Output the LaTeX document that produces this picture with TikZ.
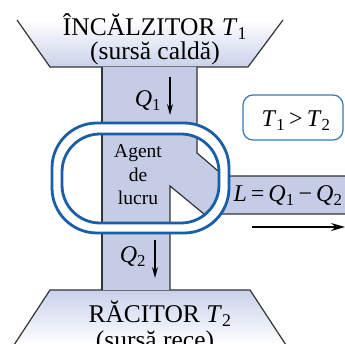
\documentclass[tikz,border=0pt]{standalone}
\usepackage{fontspec}
\setmainfont{Liberation Serif}
\usetikzlibrary{arrows.meta}
\definecolor{colfill}{HTML}{C5CCE6}
\definecolor{shadeblue}{HTML}{C9D1EB}
\definecolor{ringblue}{HTML}{1A5EA8}
\definecolor{boxblue}{HTML}{3A75BB}
\definecolor{edgegray}{HTML}{333333}
\newcommand\vT[1]{\textit{T}\textsubscript{#1}}
\newcommand\vQ[1]{\textit{Q}\textsubscript{#1}}
\begin{document}
\begin{tikzpicture}[x=1pt,y=-1pt,
  edge/.style={draw=edgegray,line width=1.2pt},
  ring/.style={draw=ringblue,line width=2.8pt},
  big/.style={font=\fontsize{24}{25}\selectfont,inner sep=0pt,anchor=base},
  title/.style={font=\fontsize{25.5}{26}\selectfont,inner sep=0pt,anchor=base},
  small/.style={font=\fontsize{19.5}{22}\selectfont,inner sep=0pt,anchor=base},
  flow/.style={draw=black,line width=1.3pt,-{Stealth[length=11pt,width=6pt]}}]
\useasboundingbox (0,0) rectangle (345,344);
% top reservoir
\shade[top color=white,bottom color=shadeblue] (17,20) -- (283,20) -- (248,67) -- (50,67) -- cycle;
\draw[edge] (17,20) -- (50,67) -- (248,67) -- (283,20);
% bottom reservoir
\shade[top color=shadeblue,bottom color=white] (50,290) -- (250,290) -- (286,345) -- (14,345) -- cycle;
\draw[edge] (14,345) -- (50,290) -- (250,290) -- (286,345);
% column and arm
\fill[colfill] (102,67) -- (197,67) -- (197,153) -- (224,176) -- (345,176) -- (345,214) -- (204,214) -- (170,186) -- (170,290) -- (102,290) -- cycle;
\draw[edge] (102,67) -- (102,290);
\draw[edge] (197,67) -- (197,153) -- (224,176) -- (345,176);
\draw[edge] (345,214) -- (204,214) -- (170,186) -- (170,290);
% ring
\fill[white,even odd rule] [rounded corners=45pt] (52,123) rectangle (229,233) [rounded corners=38pt] (62,134) rectangle (219,223);
\draw[ring,rounded corners=45pt] (52,123) rectangle (229,233);
\draw[ring,rounded corners=38pt] (62,134) rectangle (219,223);
% temperature box
\draw[boxblue,line width=1.2pt,rounded corners=10pt] (243,95) rectangle (343,140);
\node[big] (cmp) at (296,127) {\vT1\,>\,\vT2};
% texts
\node[title] (hot1) at (155,36) {ÎNCĂLZITOR \vT1};
\node[title] (hot2) at (155,60) {(sursă caldă)};
\node[title] (cold1) at (160,323) {RĂCITOR \vT2};
\node[title] (cold2) at (155,348) {(sursă rece)};
\node[big] (q1) at (148,107) {\vQ1};
\node[big] (q2) at (133,263) {\vQ2};
\node[small] (ag1) at (138,158) {Agent};
\node[small] (ag2) at (138,182) {de};
\node[small] (ag3) at (138,205) {lucru};
\node[big] (work) at (288,202) {\textit{L}\,=\,\vQ1\,−\,\vQ2};
% arrows
\coordinate (a1s) at (170,77); \coordinate (a1e) at (170,115);
\coordinate (a2s) at (155,240); \coordinate (a2e) at (155,278);
\coordinate (a3s) at (252,227); \coordinate (a3e) at (345,227);
\draw[flow] (a1s) -- (a1e);
\draw[flow] (a2s) -- (a2e);
\draw[flow,-{Stealth[length=14pt,width=8pt]}] (a3s) -- (a3e);
\end{tikzpicture}
\end{document}
